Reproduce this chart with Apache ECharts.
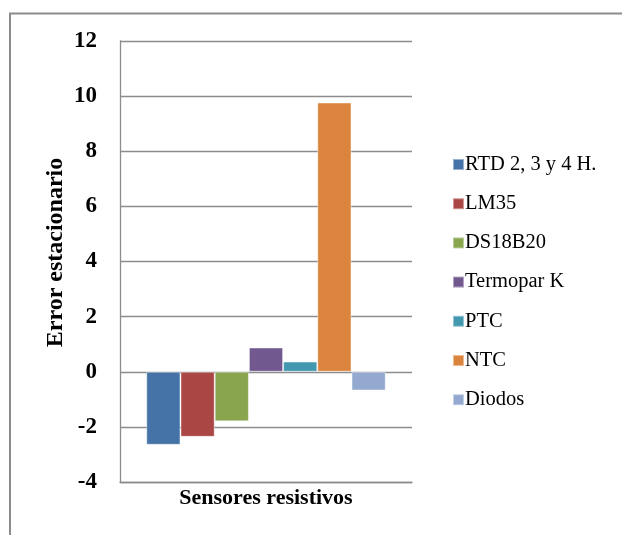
<!DOCTYPE html>
<html>
<head>
<meta charset="utf-8">
<script src="https://cdn.jsdelivr.net/npm/echarts@6/dist/echarts.min.js"></script>
<style>
  html, body { margin: 0; padding: 0; background: #ffffff; }
  #chart { width: 622px; height: 535px; }
</style>
</head>
<body>
<div id="chart"></div>
<script>
// Steady-state error per sensor type
const categories = ['Sensores resistivos'];
const seriesNames = ['RTD 2, 3 y 4 H.', 'LM35', 'DS18B20', 'Termopar K', 'PTC', 'NTC', 'Diodos'];
const seriesValues = [-2.65, -2.36, -1.8, 0.88, 0.37, 9.77, -0.68];
const seriesColors = ['#4572A7', '#AA4643', '#89A54E', '#71588F', '#4198AF', '#DB843D', '#93A9CF'];
const yTicks = { min: -4, max: 12, interval: 2 };

const serif = '"Liberation Serif", "Times New Roman", serif';

const chart = echarts.init(document.getElementById('chart'), null, { renderer: 'canvas' });

const series = seriesNames.map((name, i) => ({
  name: name,
  type: 'bar',
  data: [seriesValues[i]],
  barGap: '0%',
  barCategoryGap: '18%',
  itemStyle: {
    color: seriesColors[i],
    borderColor: 'rgba(255,255,255,0.45)',
    borderWidth: 1
  },
  emphasis: { disabled: true }
}));

chart.setOption({
  animation: false,
  backgroundColor: '#ffffff',
  graphic: [{
    type: 'rect',
    shape: { x: 10, y: 13.5, width: 700, height: 600 },
    style: { fill: 'none', stroke: '#8c8c8c', lineWidth: 2 },
    silent: true,
    z: -1
  }],
  grid: { left: 120, top: 41, width: 292, height: 441 },
  legend: {
    orient: 'vertical',
    left: 452,
    top: 154,
    padding: 0,
    itemWidth: 11,
    itemHeight: 11,
    itemGap: 18.2,
    icon: 'rect',
    selectedMode: false,
    textStyle: { fontFamily: serif, fontSize: 20.5, color: '#000', lineHeight: 20, padding: [0, 0, 0, -4] },
    data: seriesNames
  },
  xAxis: {
    type: 'category',
    data: categories,
    axisLine: { onZero: false, lineStyle: { color: '#8c8c8c', width: 1.3 } },
    axisTick: { show: false },
    axisLabel: { fontFamily: serif, fontSize: 22, fontWeight: 'bold', color: '#000', margin: 5 }
  },
  yAxis: {
    type: 'value',
    min: yTicks.min,
    max: yTicks.max,
    interval: yTicks.interval,
    name: 'Error estacionario',
    nameLocation: 'middle',
    nameGap: 52,
    nameTextStyle: { fontFamily: serif, fontSize: 24, fontWeight: 'bold', color: '#000', padding: [0, 0, 0, 18] },
    axisLine: { show: true, lineStyle: { color: '#8c8c8c', width: 1.3 } },
    axisTick: { show: false },
    axisLabel: { fontFamily: serif, fontSize: 23, fontWeight: 'bold', color: '#000', margin: 23 },
    splitLine: { lineStyle: { color: '#8c8c8c', width: 1.3 } }
  },
  series: series
});
</script>
</body>
</html>
